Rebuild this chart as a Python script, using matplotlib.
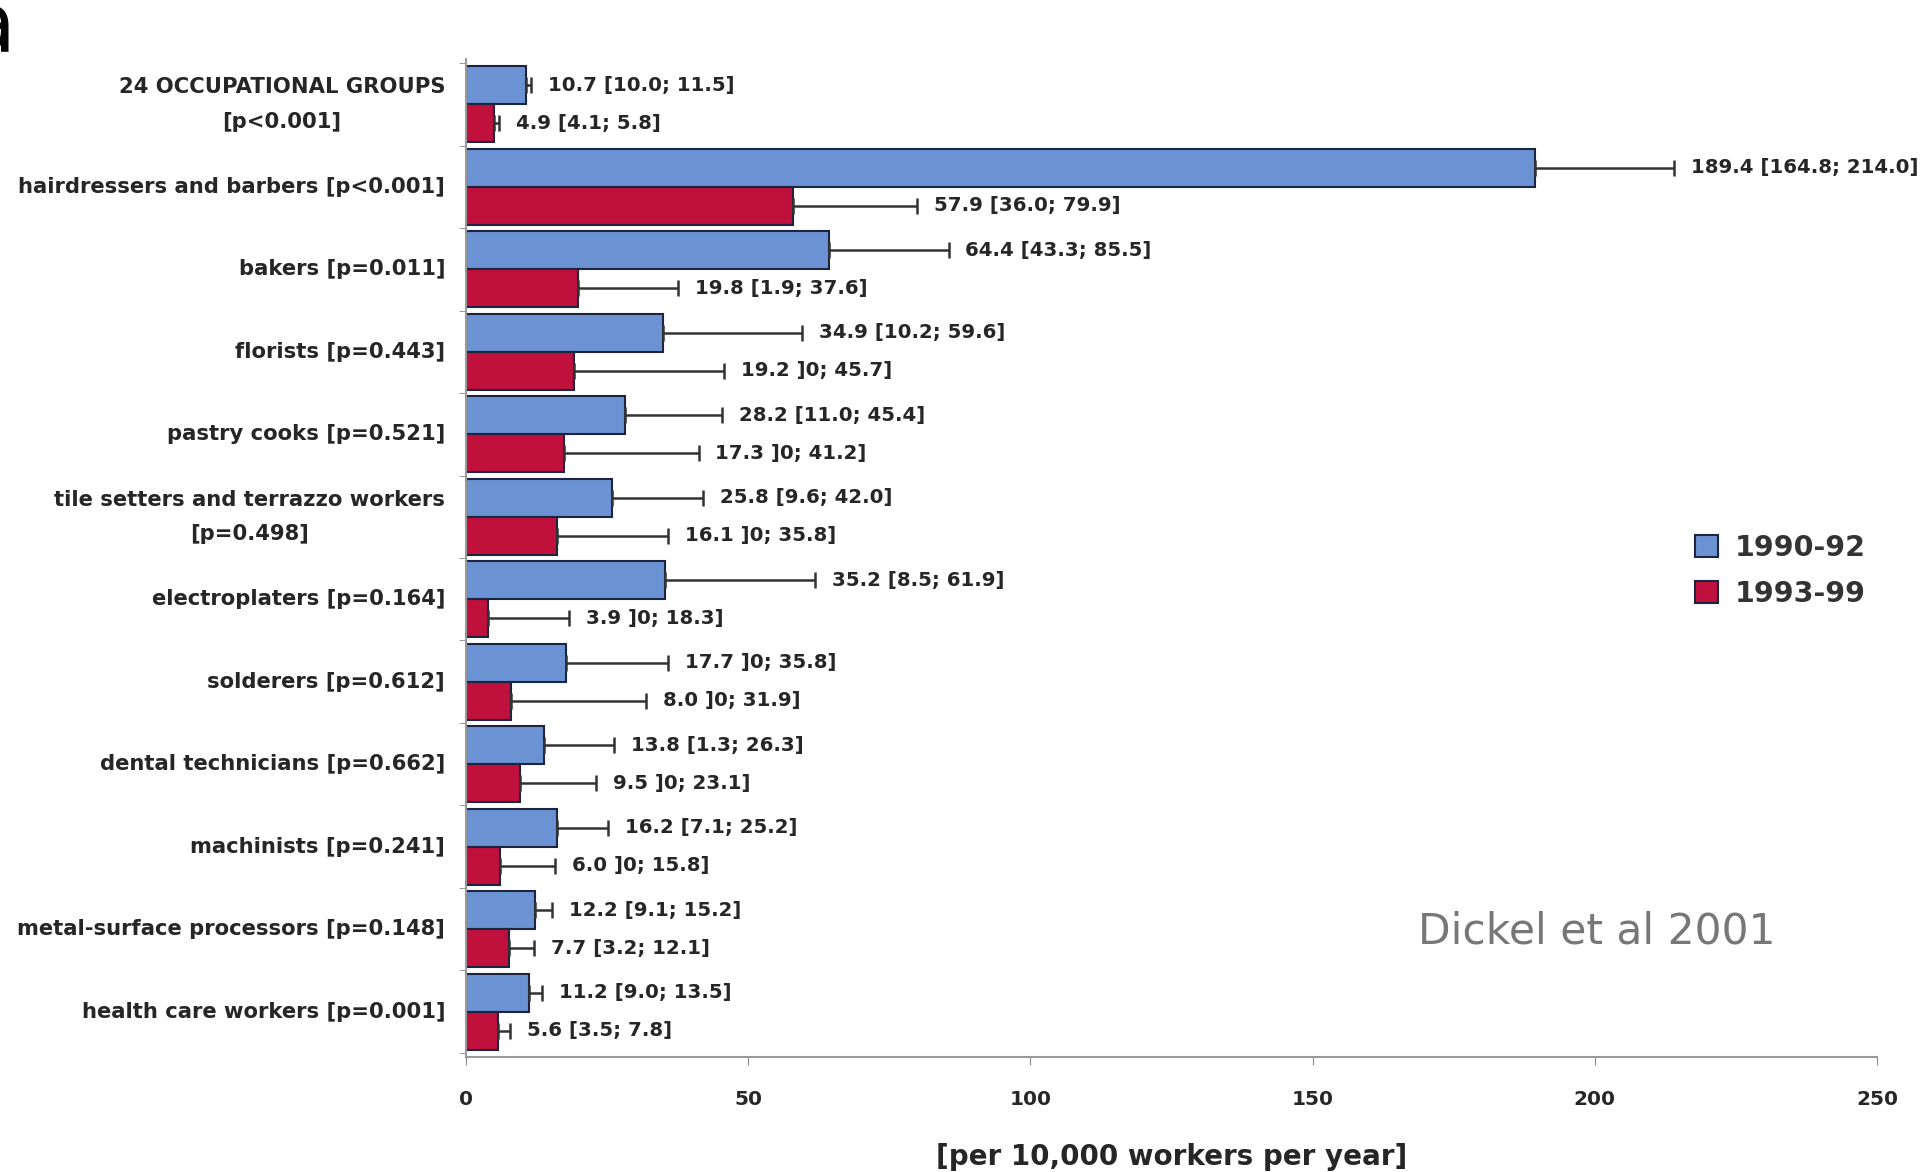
import matplotlib.pyplot as plt
import numpy as np

# Groups (top to bottom)
groups = [
    "24 OCCUPATIONAL GROUPS\n[p<0.001]",
    "hairdressers and barbers [p<0.001]",
    "bakers [p=0.011]",
    "florists [p=0.443]",
    "pastry cooks [p=0.521]",
    "tile setters and terrazzo workers\n[p=0.498]",
    "electroplaters [p=0.164]",
    "solderers [p=0.612]",
    "dental technicians [p=0.662]",
    "machinists [p=0.241]",
    "metal-surface processors [p=0.148]",
    "health care workers [p=0.001]",
]

# 1990-92 incidence with 95% CI
val_9092 = np.array([10.7, 189.4, 64.4, 34.9, 28.2, 25.8, 35.2, 17.7, 13.8, 16.2, 12.2, 11.2])
hi_9092 = np.array([11.5, 214.0, 85.5, 59.6, 45.4, 42.0, 61.9, 35.8, 26.3, 25.2, 15.2, 13.5])
lbl_9092 = ["10.7 [10.0; 11.5]", "189.4 [164.8; 214.0]", "64.4 [43.3; 85.5]",
            "34.9 [10.2; 59.6]", "28.2 [11.0; 45.4]", "25.8 [9.6; 42.0]",
            "35.2 [8.5; 61.9]", "17.7 ]0; 35.8]", "13.8 [1.3; 26.3]",
            "16.2 [7.1; 25.2]", "12.2 [9.1; 15.2]", "11.2 [9.0; 13.5]"]

# 1993-99 incidence with 95% CI
val_9399 = np.array([4.9, 57.9, 19.8, 19.2, 17.3, 16.1, 3.9, 8.0, 9.5, 6.0, 7.7, 5.6])
hi_9399 = np.array([5.8, 79.9, 37.6, 45.7, 41.2, 35.8, 18.3, 31.9, 23.1, 15.8, 12.1, 7.8])
lbl_9399 = ["4.9 [4.1; 5.8]", "57.9 [36.0; 79.9]", "19.8 [1.9; 37.6]",
            "19.2 ]0; 45.7]", "17.3 ]0; 41.2]", "16.1 ]0; 35.8]",
            "3.9 ]0; 18.3]", "8.0 ]0; 31.9]", "9.5 ]0; 23.1]",
            "6.0 ]0; 15.8]", "7.7 [3.2; 12.1]", "5.6 [3.5; 7.8]"]

blue = "#6b93d4"
red = "#c0103c"
edge = "#1c2440"
txt = "#262626"

fig = plt.figure(figsize=(19.2, 11.72), dpi=100)
ax = fig.add_axes([0.2427, 0.0981, 0.7349, 0.8516])

y = np.arange(len(groups))
h = 0.46
yb = y - h / 2
yr = y + h / 2

ax.barh(yb, val_9092, height=h, color=blue, edgecolor=edge, linewidth=1.5, label="1990-92")
ax.barh(yr, val_9399, height=h, color=red, edgecolor=edge, linewidth=1.5, label="1993-99")

ax.errorbar(val_9092, yb, xerr=[np.zeros_like(val_9092), hi_9092 - val_9092],
            fmt="none", ecolor="#333333", elinewidth=1.8, capsize=6, capthick=1.8)
ax.errorbar(val_9399, yr, xerr=[np.zeros_like(val_9399), hi_9399 - val_9399],
            fmt="none", ecolor="#333333", elinewidth=1.8, capsize=6, capthick=1.8)

for yy, x, s in zip(yb, hi_9092, lbl_9092):
    ax.text(x + 3.0, yy, s, va="center", ha="left", fontsize=14.2,
            fontweight="bold", color=txt)
for yy, x, s in zip(yr, hi_9399, lbl_9399):
    ax.text(x + 3.0, yy, s, va="center", ha="left", fontsize=14.2,
            fontweight="bold", color=txt)

ax.set_xlim(0, 250)
ax.set_ylim(11.55, -0.55)
ax.set_xticks([0, 50, 100, 150, 200, 250])
ax.set_yticks(y)
ax.set_yticklabels(groups, multialignment="center", linespacing=1.9, va="center")
ax.set_yticks(np.arange(-0.5, 12.0, 1.0), minor=True)
ax.tick_params(axis="y", which="major", length=0, pad=15, labelsize=15.2, labelcolor=txt)
ax.tick_params(axis="y", which="minor", length=5, direction="out", color="#888888")
ax.tick_params(axis="x", length=6, color="#888888", labelsize=14.5, labelcolor=txt, pad=18)
for lab in ax.get_yticklabels() + ax.get_xticklabels():
    lab.set_fontweight("bold")

ax.spines["top"].set_visible(False)
ax.spines["right"].set_visible(False)
ax.spines["left"].set_color("#999999")
ax.spines["bottom"].set_color("#999999")
ax.spines["left"].set_linewidth(1.5)
ax.spines["bottom"].set_linewidth(1.5)

ax.set_xlabel("[per 10,000 workers per year]", fontsize=20, fontweight="bold",
              color=txt, labelpad=24)

leg = ax.legend(loc="upper left", bbox_to_anchor=(0.853, 0.55), frameon=False,
                prop={"size": 20.5, "weight": "bold"}, handlelength=0.8, handleheight=0.8,
                handletextpad=0.6, labelspacing=0.65)
for t in leg.get_texts():
    t.set_color("#333333")

fig.text(0.7385, 0.195, "Dickel et al 2001", fontsize=30.5, color="#777777")
fig.text(-0.018, 0.956, "a", fontsize=60, color="black", va="baseline")

fig.savefig("out.png", dpi=100)
